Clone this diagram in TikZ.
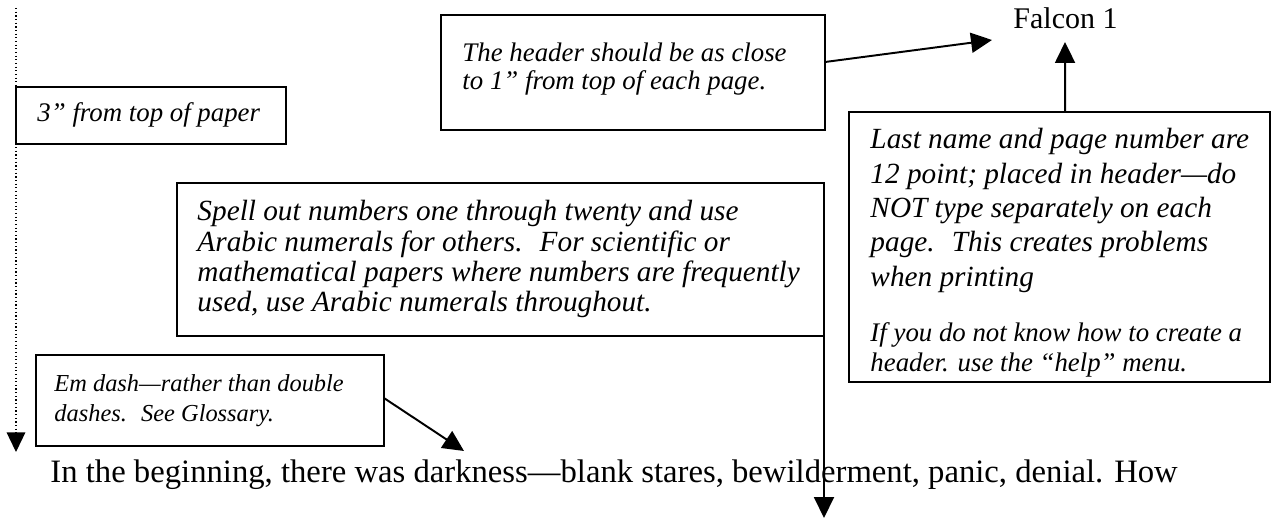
\documentclass[tikz,border=0pt]{standalone}
\usepackage{fontspec}
\setmainfont{Liberation Serif}
\usetikzlibrary{arrows.meta,fit}
\begin{document}
\begin{tikzpicture}[x=0.41pt,y=-0.41pt,
  box/.style={draw,line width=0.8pt,inner sep=0pt,outer sep=0pt},
  note/.style={anchor=north west,align=left,inner sep=0pt,font=\fontsize{12}{12.4}\selectfont\itshape},
  arr/.style={line width=0.8pt,-{Triangle[length=8.6pt,width=8.2pt]}},
  dotarr/.style={line width=0.5pt,densely dotted,-{Triangle[length=8pt,width=7.6pt]}}]
\useasboundingbox (0,0) rectangle (1277,522);

% boxes
\node[box,fit={(16,87) (286,144)}] (A) {};
\node[box,fit={(441,15) (825,130)}] (B) {};
\node[box,fit={(849,112) (1270,382)}] (C) {};
\node[box,fit={(177,183) (824,336)}] (D) {};
\node[box,fit={(36,355) (384,446)}] (E) {};

% texts
\node[note,anchor=base west,font=\fontsize{11}{12}\selectfont\itshape] (At) at (37,122) {3” from top of paper};
\node[note,font=\fontsize{11}{11.8}\selectfont\itshape] (Bt) at (462,42) {The header should be as close\\to 1” from top of each page.};
\node[anchor=base west,inner sep=0pt,font=\fontsize{12.3}{14}\selectfont] (F) at (1013,29) {Falcon 1};
\begin{scope}
\clip (849,112) rectangle (1270,378);
\node[note,font=\fontsize{12}{14.1}\selectfont\itshape] (Ct1) at (870,128) {Last name and page number are\\12 point; placed in header—do\\NOT type separately on each\\page. \ This creates problems\\when printing};
\node[note,font=\fontsize{11}{12.3}\selectfont\itshape] (Ct2) at (870,322) {If you do not know how to create a\\header. use the “help” menu.};
\end{scope}
\node[note] (Dt) at (197,200) {Spell out numbers one through twenty and use\\Arabic numerals for others. \ For scientific or\\mathematical papers where numbers are frequently\\used, use Arabic numerals throughout.};
\node[note,font=\fontsize{10}{12.3}\selectfont\itshape] (Et) at (54,374) {Em dash—rather than double\\dashes. \ See Glossary.};
\node[anchor=base west,inner sep=0pt,font=\fontsize{13.4}{15}\selectfont] (body) at (50,483) {In the beginning, there was darkness—blank stares, bewilderment, panic, denial. How};

% connector end points
\coordinate (ft) at (992,40);
\coordinate (fu) at (1065,42);
\coordinate (dd) at (824,518);
\coordinate (ed) at (464,451);
\coordinate (dt) at (16,8);
\coordinate (db) at (16,452);

% connectors
\draw[arr] ([yshift=4.3pt]B.east) -- (ft);
\draw[arr] ([xshift=2.3pt]C.north) -- (fu);
\draw[arr] (D.south east) -- (dd);
\draw[arr] ([yshift=1pt]E.east) -- (ed);
\draw[dotarr] (dt) -- (db);
\end{tikzpicture}
\end{document}
